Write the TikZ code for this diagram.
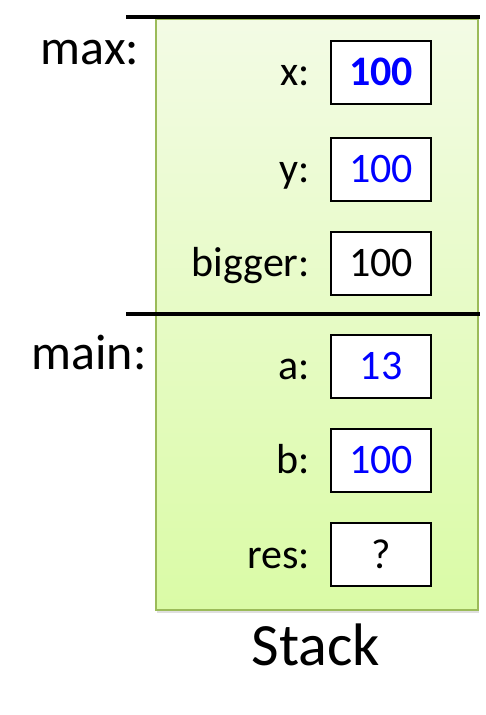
\documentclass[tikz,border=0pt]{standalone}
\usepackage{fontspec}
\setmainfont{Carlito}
\usetikzlibrary{positioning,shadows}
\definecolor{stacktop}{HTML}{F3FBE5}
\definecolor{stackbottom}{HTML}{DAFBA6}
\definecolor{stackedge}{HTML}{9BBB59}

\begin{document}
\begin{tikzpicture}[x=1pt,y=-1pt,
  stackarea/.style={draw=stackedge,line width=1.8pt,top color=stacktop,bottom color=stackbottom,
    minimum width=322pt,minimum height=591pt,inner sep=0pt,
    drop shadow={shadow xshift=1pt,shadow yshift=-3pt,opacity=0.25}},
  valbox/.style={draw,line width=2pt,fill=white,minimum width=100pt,minimum height=63pt,
    inner sep=0pt,font=\fontsize{42}{46}\selectfont},
  varlabel/.style={inner sep=0pt,font=\fontsize{42}{46}\selectfont},
  framelabel/.style={inner sep=0pt,anchor=base,font=\fontsize{50}{56}\selectfont},
  divider/.style={line width=4pt}]
\useasboundingbox (0,0) rectangle (486,715);
% stack
\node[stackarea] (stack) at (317,314.5) {};
\node[inner sep=0pt,anchor=base,font=\fontsize{60}{66}\selectfont] (stacklbl) at (316,665) {Stack};
\draw[divider] (126,17) -- (480,17);
\draw[divider] (126,314) -- (480,314);
% frames
\node[framelabel] (maxlbl) at (90,64) {max:};
\node[framelabel] (mainlbl) at (89,369) {main:};
% max frame
\node[valbox,text=blue,font=\fontsize{42}{46}\selectfont\bfseries] (xval) at (381,72) {100};
\node[valbox,text=blue] (yval) at (381,169) {100};
\node[valbox] (biggerval) at (381,263) {100};
\node[varlabel,left=20pt of xval.base west,anchor=base east] (xlbl) {x:};
\node[varlabel,left=20pt of yval.base west,anchor=base east] (ylbl) {y:};
\node[varlabel,left=20pt of biggerval.base west,anchor=base east] (biggerlbl) {bigger:};
% main frame
\node[valbox,text=blue] (aval) at (381,366) {13};
\node[valbox,text=blue] (bval) at (381,460) {100};
\node[valbox] (resval) at (381,554) {?};
\node[varlabel,left=20pt of aval.base west,anchor=base east] (albl) {a:};
\node[varlabel,left=20pt of bval.base west,anchor=base east] (blbl) {b:};
\node[varlabel,left=20pt of resval.base west,anchor=base east] (reslbl) {res:};
\end{tikzpicture}
\end{document}
